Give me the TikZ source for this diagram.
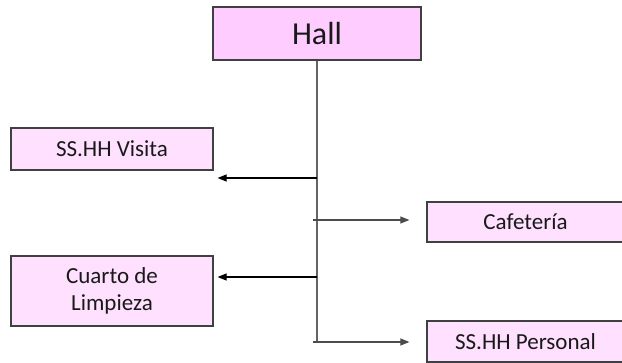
\documentclass[tikz,border=0pt]{standalone}
\usepackage{fontspec}
\setmainfont{Carlito}
\usetikzlibrary{arrows.meta, positioning, calc}

\definecolor{hallpink}{RGB}{255,204,255}
\definecolor{roompink}{RGB}{255,224,255}
\definecolor{boxline}{RGB}{64,64,64}
\definecolor{spinegray}{RGB}{100,100,100}

\begin{document}
\begin{tikzpicture}[
    x=1pt, y=-1pt,
    >={Triangle[length=9pt,width=7pt]}, % punta de flecha
    % caja de cada ambiente
    room/.style={rectangle, draw=boxline, line width=1.2pt, fill=roompink, inner sep=0pt, text=black!90, align=center, font=\fontsize{23}{27}\selectfont},
    % caja principal
    hallbox/.style={room, fill=hallpink, font=\fontsize{32}{38}\selectfont},
    % eje vertical
    spine/.style={draw=spinegray, line width=1.7pt},
    % flechas hacia los ambientes
    link/.style={->, line width=1.1pt}
]
\useasboundingbox (0,0) rectangle (622,363);

% 1. ambientes
\node [hallbox, minimum width=208pt, minimum height=53pt] (hall) at (317,33.5) {Hall};
\node [room, minimum width=202pt, minimum height=42pt] (visita) at (112,149) {SS.HH Visita};
\node [room, minimum width=202pt, minimum height=70pt] (limpieza) at (112,291) {Cuarto de\\Limpieza};
\node [room, minimum width=197pt, minimum height=40pt] (cafe) at (525.5,222) {Cafetería};
\node [room, minimum width=197pt, minimum height=41pt] (personal) at (525.5,341.5) {SS.HH Personal};

% 2. puntos del eje
\coordinate (j1) at (317,178);
\coordinate (j2) at (317,220);
\coordinate (j3) at (317,277);
\coordinate (j4) at (317,342);

% 3. eje y flechas
\draw [spine] (hall.south) -- (j4);
\draw [link] (j1) -- ($(visita.east |- j1)+(4,0)$);
\draw [link] (j3) -- ($(limpieza.east |- j3)+(4,0)$);
\draw [link, draw=black!70, shorten >=17pt] ($(j2)+(-4,0)$) -- (cafe.west |- j2);
\draw [link, draw=black!70, shorten >=17pt] ($(j4)+(-4,0)$) -- (personal.west |- j4);

\end{tikzpicture}
\end{document}
